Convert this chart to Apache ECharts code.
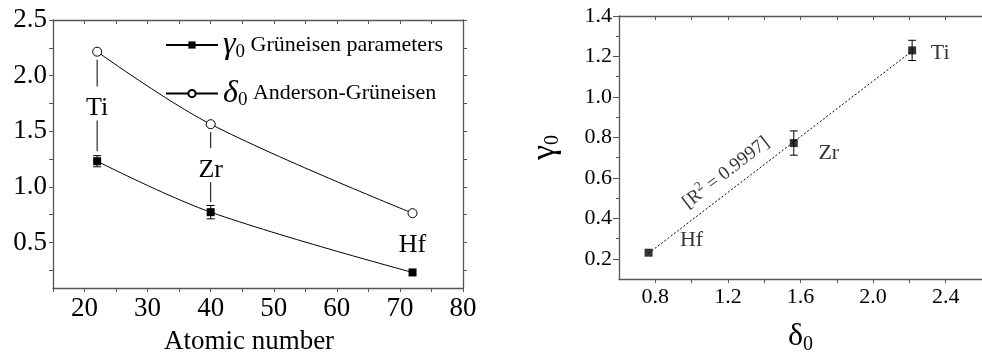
<!DOCTYPE html>
<html><head><meta charset="utf-8">
<script src="https://cdn.jsdelivr.net/npm/echarts@6/dist/echarts.min.js"></script>
<style>html,body{margin:0;padding:0;background:#fff}#c{width:982px;height:360px}</style>
</head><body><div id="c"></div>
<script>
// ---- data ----
const elements = ['Ti', 'Zr', 'Hf'];
const atomicNumber = [22, 40, 72];
const gamma0 = [1.23, 0.772, 0.23];
const gammaErr = [0.05, 0.06, 0];
const delta0 = [2.215, 1.563, 0.763];
const r2Text = '0.9997';
// ---- tick values ----
const leftXTicks = [15, 20, 25, 30, 35, 40, 45, 50, 55, 60, 65, 70, 75, 80];
const leftXLabels = [20, 30, 40, 50, 60, 70, 80];
const leftYTicks = [0.25, 0.5, 0.75, 1.0, 1.25, 1.5, 1.75, 2.0, 2.25, 2.5];
const leftYLabels = [0.5, 1.0, 1.5, 2.0, 2.5];
const rightXTicks = [0.8, 1.0, 1.2, 1.4, 1.6, 1.8, 2.0, 2.2, 2.4];
const rightXLabels = [0.8, 1.2, 1.6, 2.0, 2.4];
const rightYLabels = [0.2, 0.4, 0.6, 0.8, 1.0, 1.2, 1.4];
const rightYMinor = [0.3, 0.5, 0.7, 0.9, 1.1, 1.3];

// ---- styling constants ----
const FONT = '"Liberation Serif", "Times New Roman", serif';
const AX = '#555';
const rightLabelOffsets = [[28, 3], [35, 10], [43, -12]];
const r2Pos = [1.19, 0.625];

// linear fit of gamma0 vs delta0
const n = delta0.length;
const mx = delta0.reduce((a, b) => a + b, 0) / n;
const my = gamma0.reduce((a, b) => a + b, 0) / n;
let sxy = 0, sxx = 0;
for (let i = 0; i < n; i++) { sxy += (delta0[i] - mx) * (gamma0[i] - my); sxx += (delta0[i] - mx) ** 2; }
const slope = sxy / sxx, icpt = my - slope * mx;
const dmin = Math.min(...delta0), dmax = Math.max(...delta0);
const fitLine = [[dmin, icpt + slope * dmin], [dmax, icpt + slope * dmax]];

const lineSt = { color: '#000', width: 1 };

function errorBars(xi, yi, xs, ys, es) {
  return {
    type: 'custom', xAxisIndex: xi, yAxisIndex: yi, silent: true, z: 4,
    data: xs.map((x, i) => [x, ys[i], es[i]]),
    renderItem(params, api) {
      const x = api.value(0), y = api.value(1), e = api.value(2);
      if (!e) return { type: 'group', children: [] };
      const t = api.coord([x, y + e]), b = api.coord([x, y - e]);
      const c = 4, st = { stroke: '#000', lineWidth: 1 };
      return { type: 'group', children: [
        { type: 'line', shape: { x1: t[0], y1: t[1], x2: b[0], y2: b[1] }, style: st },
        { type: 'line', shape: { x1: t[0] - c, y1: t[1], x2: t[0] + c, y2: t[1] }, style: st },
        { type: 'line', shape: { x1: b[0] - c, y1: b[1], x2: b[0] + c, y2: b[1] }, style: st }
      ]};
    }
  };
}

const chart = echarts.init(document.getElementById('c'), null, { renderer: 'canvas' });
const option = {
  animation: false,
  backgroundColor: '#fff',
  textStyle: { fontFamily: FONT, color: '#000' },
  grid: [
    { left: 53, top: 20, width: 410, height: 268 },
    { left: 619, top: 16, width: 367, height: 271 }
  ],
  legend: {
    left: 160, top: 24, orient: 'vertical', itemWidth: 52, itemHeight: 9, itemGap: 16,
    data: ['gamma', 'delta'], selectedMode: false,
    formatter: name => name === 'gamma'
      ? '{gi|γ}{sub|0}{t| Grüneisen parameters}'
      : '{gi|δ}{sub|0}{t| Anderson-Grüneisen}',
    textStyle: {
      fontFamily: FONT, color: '#000', padding: [0, 0, 0, 0],
      rich: {
        gi: { fontFamily: FONT, fontStyle: 'italic', fontSize: 32, lineHeight: 32, color: '#000' },
        sub: { fontFamily: FONT, fontSize: 19, padding: [14, 0, 0, 0], color: '#000' },
        t: { fontFamily: FONT, fontSize: 22, color: '#000' }
      }
    }
  },
  xAxis: [
    { gridIndex: 0, type: 'value', min: 15, max: 80, position: 'bottom',
      axisLine: { show: true, lineStyle: { color: AX, width: 1.3 } },
      axisTick: { show: true, inside: false, length: 4, customValues: leftXTicks, lineStyle: { color: AX } },
      axisLabel: { customValues: leftXLabels, fontSize: 27, margin: 7, color: '#000', fontFamily: FONT },
      splitLine: { show: false },
      name: 'Atomic number', nameLocation: 'middle', nameGap: 40,
      nameTextStyle: { fontSize: 27, color: '#000', fontFamily: FONT, padding: [0, 18, 0, 0] } },
    { gridIndex: 0, type: 'value', min: 15, max: 80, position: 'top',
      axisLine: { show: true, lineStyle: { color: AX, width: 1.3 } },
      axisTick: { show: true, inside: true, length: 4, customValues: leftXTicks, lineStyle: { color: AX } },
      axisLabel: { show: false }, splitLine: { show: false } },
    { gridIndex: 1, type: 'value', min: 0.6, max: 2.6, position: 'bottom',
      axisLine: { show: true, lineStyle: { color: AX, width: 1.3 } },
      axisTick: { show: true, inside: false, length: 4, customValues: rightXTicks, lineStyle: { color: AX } },
      axisLabel: { customValues: rightXLabels, fontSize: 22, margin: 7, color: '#000', fontFamily: FONT,
        formatter: v => v.toFixed(1) },
      splitLine: { show: false },
      name: '{d|δ}{s|0}', nameLocation: 'middle', nameGap: 40,
      nameTextStyle: { rich: {
        d: { fontSize: 32, fontFamily: FONT, color: '#000' },
        s: { fontSize: 20, fontFamily: FONT, color: '#000', padding: [16, 0, 0, 0] } } } },
    { gridIndex: 1, type: 'value', min: 0.6, max: 2.6, position: 'top',
      axisLine: { show: true, lineStyle: { color: AX, width: 1.3 } },
      axisTick: { show: true, inside: true, length: 4, customValues: rightXTicks, lineStyle: { color: AX } },
      axisLabel: { show: false }, splitLine: { show: false } }
  ],
  yAxis: [
    { gridIndex: 0, type: 'value', min: 0.09, max: 2.5, position: 'left',
      axisLine: { show: true, lineStyle: { color: AX, width: 1.3 } },
      axisTick: { show: true, inside: false, length: 4, customValues: leftYTicks, lineStyle: { color: AX } },
      axisLabel: { customValues: leftYLabels, fontSize: 27, margin: 6, color: '#000', fontFamily: FONT,
        formatter: v => v.toFixed(1) },
      splitLine: { show: false } },
    { gridIndex: 0, type: 'value', min: 0.09, max: 2.5, position: 'right',
      axisLine: { show: true, lineStyle: { color: AX, width: 1.3 } },
      axisTick: { show: true, inside: false, length: 4, customValues: leftYTicks, lineStyle: { color: AX } },
      axisLabel: { show: false }, splitLine: { show: false } },
    { gridIndex: 1, type: 'value', min: 0.1, max: 1.4, position: 'left',
      axisLine: { show: true, lineStyle: { color: AX, width: 1.3 } },
      axisTick: { show: true, inside: false, length: 6, customValues: rightYLabels, lineStyle: { color: AX } },
      axisLabel: { customValues: rightYLabels, fontSize: 22, margin: 7, color: '#000', fontFamily: FONT,
        formatter: v => v.toFixed(1) },
      splitLine: { show: false },
      name: '{g|γ}{s|0}', nameLocation: 'middle', nameGap: 56, nameRotate: 90,
      nameTextStyle: { rich: {
        g: { fontSize: 34, fontFamily: FONT, color: '#000' },
        s: { fontSize: 20, fontFamily: FONT, color: '#000', padding: [16, 0, 0, 0] } } } },
    { gridIndex: 1, type: 'value', min: 0.1, max: 1.4, position: 'left',
      axisLine: { show: false },
      axisTick: { show: true, inside: false, length: 3, customValues: rightYMinor, lineStyle: { color: AX } },
      axisLabel: { show: false }, splitLine: { show: false } }
  ],
  series: [
    { type: 'custom', xAxisIndex: 0, yAxisIndex: 0, silent: true, z: 1,
      data: atomicNumber.map((x, i) => [x, delta0[i], gamma0[i]]),
      renderItem(params, api) {
        const x = api.value(0);
        const pd = api.coord([x, api.value(1)]), pg = api.coord([x, api.value(2)]);
        const mid = (pd[1] + pg[1]) / 2;
        const st = { stroke: '#000', lineWidth: 1 };
        const ch = [];
        const s1 = [pd[1] + 8, mid - 20], s2 = [mid + 14, pg[1] - 10];
        if (s1[1] - s1[0] > 6) ch.push({ type: 'line', shape: { x1: pd[0], y1: s1[0], x2: pd[0], y2: s1[1] }, style: st });
        if (s2[1] - s2[0] > 6) ch.push({ type: 'line', shape: { x1: pd[0], y1: s2[0], x2: pd[0], y2: s2[1] }, style: st });
        ch.push({ type: 'text', x: pd[0], y: mid + 2, style: { text: elements[params.dataIndex], fontFamily: FONT,
          fontSize: 26, fill: '#000', align: 'center', verticalAlign: 'middle' } });
        return { type: 'group', children: ch };
      } },
    { name: 'gamma', type: 'line', xAxisIndex: 0, yAxisIndex: 0, smooth: 0.35, z: 3,
      data: atomicNumber.map((x, i) => [x, gamma0[i]]),
      symbol: 'rect', symbolSize: 8, lineStyle: lineSt,
      itemStyle: { color: '#000' } },
    { name: 'delta', type: 'line', xAxisIndex: 0, yAxisIndex: 0, smooth: 0.35, z: 3,
      data: atomicNumber.map((x, i) => [x, delta0[i]]),
      symbol: 'circle', symbolSize: 9, lineStyle: lineSt,
      itemStyle: { color: '#fff', borderColor: '#000', borderWidth: 1 } },
    errorBars(0, 0, atomicNumber, gamma0, gammaErr),
    { type: 'line', xAxisIndex: 2, yAxisIndex: 2, data: fitLine, showSymbol: false, symbol: 'none', z: 2,
      lineStyle: { color: '#000', width: 1, type: [2, 2] }, silent: true },
    errorBars(2, 2, delta0, gamma0, gammaErr),
    { type: 'scatter', xAxisIndex: 2, yAxisIndex: 2, symbol: 'rect', symbolSize: 8, z: 5,
      itemStyle: { color: '#000' },
      data: delta0.map((d, i) => ({ value: [d, gamma0[i]], label: { offset: rightLabelOffsets[i] } })),
      label: { show: true, position: 'inside', formatter: p => elements[p.dataIndex],
        fontFamily: FONT, fontSize: 22, color: '#000' } },
    { type: 'scatter', xAxisIndex: 2, yAxisIndex: 2, symbolSize: 0, silent: true, z: 5,
      data: [r2Pos],
      label: { show: true, position: 'inside', rotate: 38,
        formatter: '{a|[R}{sup|2}{a| = ' + r2Text + ']}',
        rich: {
          a: { fontFamily: FONT, fontSize: 19, color: '#000' },
          sup: { fontFamily: FONT, fontSize: 13, color: '#000', padding: [0, 0, 12, 0] }
        } } }
  ]
};
chart.setOption(option);
</script>
</body></html>
